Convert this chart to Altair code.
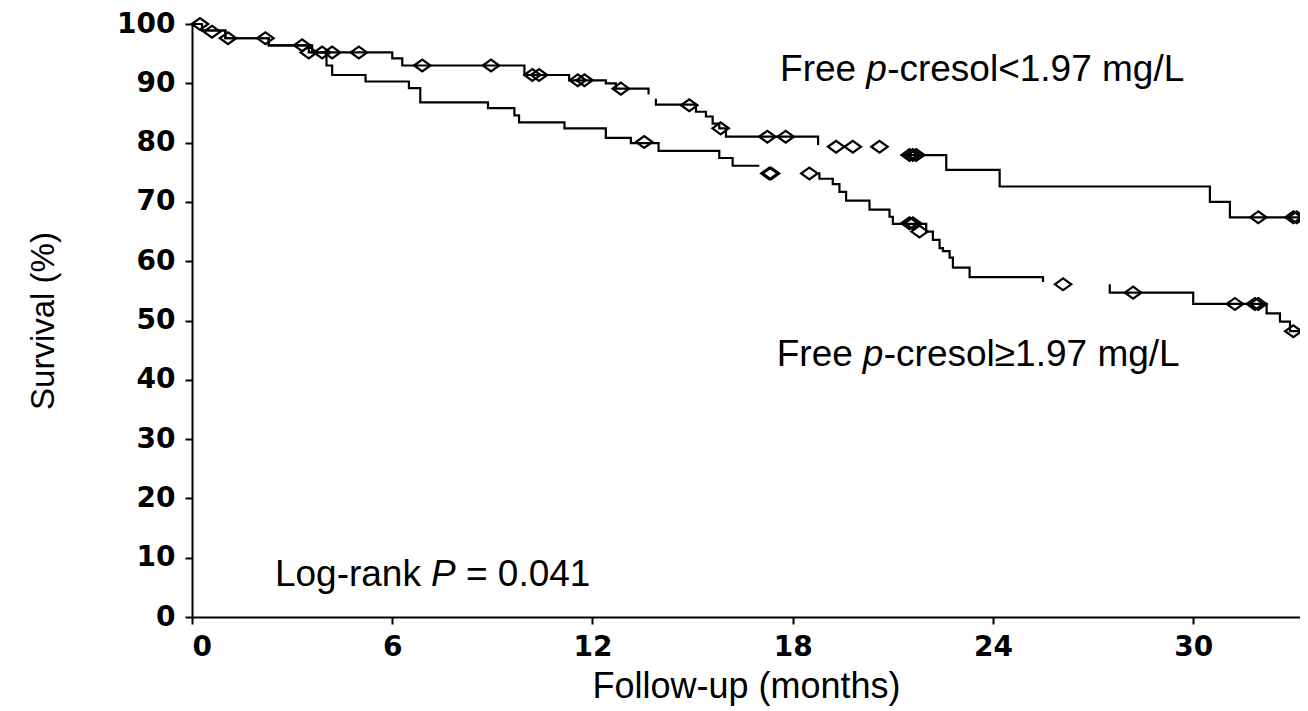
import altair as alt
import pandas as pd

# ---- Kaplan-Meier step data (months, survival %), segments split where the curve is interrupted
up_t   = [0, 0.3, 1.0, 2.3, 3.5, 6.0, 6.3, 9.96, 11.3, 12.4, 12.7, 13.68, 13.68,
          13.9, 13.9, 15.1, 15.4, 15.6, 15.8, 16.0, 18.76, 18.76,
          21.3, 22.6, 24.2, 30.5, 31.1, 33.2]
up_s   = [100, 98.9, 97.6, 96.4, 95.2, 94.2, 93.0, 91.4, 90.5, 90.0, 89.1, 89.1, 88.1,
          87.4, 86.4, 85.2, 84.4, 83.2, 82.4, 81.0, 81.0, 79.6,
          77.9, 75.4, 72.6, 70.0, 67.4, 67.4]
up_seg = [1] * 13 + [2] * 9 + [3] * 6

lo_t   = [0, 0.3, 1.0, 2.3, 3.6, 4.03, 4.2, 5.2, 6.5, 6.84, 8.87, 9.66, 9.8, 11.16, 12.4,
          13.15, 13.98, 15.8, 16.2, 17.0,
          18.7, 18.8, 19.2, 19.4, 19.6, 20.3, 20.9, 21.0, 22.0, 22.2, 22.4, 22.5, 22.7,
          22.8, 23.3, 25.5, 25.5,
          27.5, 27.5, 30.0, 32.2, 32.6, 32.9, 33.2]
lo_s   = [100, 98.9, 97.6, 96.4, 95.2, 93.0, 91.4, 90.3, 89.2, 86.8, 85.8, 84.6, 83.4, 82.4, 80.8,
          79.9, 78.6, 77.4, 76.1, 76.1,
          74.8, 73.9, 73.0, 71.7, 70.2, 68.7, 67.5, 66.3, 65.0, 63.6, 62.2, 61.7, 60.6,
          58.9, 57.3, 57.3, 56.5,
          56.1, 54.7, 52.8, 51.2, 49.8, 48.2, 48.2]
lo_seg = [1] * 20 + [2] * 17 + [3] * 7

# ---- censoring marks
up_ct = [0.24, 0.6, 1.08, 2.2, 3.3, 3.5, 3.9, 4.2, 5.0, 6.9, 8.96, 10.2, 10.4, 11.56, 11.76,
         12.85, 14.9, 15.84, 17.24, 17.79, 19.3, 19.8, 20.6, 21.5, 21.6, 21.7, 31.95, 33.0, 33.1]
up_cs = [100, 98.7, 97.6, 97.6, 96.4, 95.2, 95.2, 95.2, 95.2, 93.0, 93.0, 91.4, 91.4, 90.5, 90.5,
         89.1, 86.3, 82.4, 81.0, 81.0, 79.3, 79.3, 79.3, 77.9, 77.9, 77.9, 67.4, 67.4, 67.4]
lo_ct = [13.55, 17.3, 17.35, 18.5, 21.5, 21.6, 21.8, 26.1, 28.2, 31.25, 31.85, 31.95, 33.0]
lo_cs = [80.1, 74.8, 74.8, 74.8, 66.4, 66.4, 65.0, 56.1, 54.7, 52.8, 52.8, 52.8, 48.2]

# ---- annotation text: plain part, italic letter, rest (anchored at the italic letter)
lab_kind = ["group", "group", "test"]
lab_pre = ["Free", "Free", "Log-rank"]
lab_it = ["p", "p", "P"]
lab_post = ["-cresol<1.97 mg/L", "-cresol\u22651.97 mg/L", "= 0.041"]
lab_x = [19.9, 19.8, 6.86]
lab_y = [92.3, 44.2, 7.1]

x_ticks = [0, 6, 12, 18, 24, 30]
y_ticks = [0, 10, 20, 30, 40, 50, 60, 70, 80, 90, 100]

lines = pd.concat([
    pd.DataFrame({"t": up_t, "s": up_s, "seg": [f"u{k}" for k in up_seg]}),
    pd.DataFrame({"t": lo_t, "s": lo_s, "seg": [f"l{k}" for k in lo_seg]}),
], ignore_index=True)
lines["idx"] = range(len(lines))

cens = pd.DataFrame({"t": up_ct + lo_ct, "s": up_cs + lo_cs})
labels = pd.DataFrame({"kind": lab_kind, "pre": lab_pre, "it": lab_it, "post": lab_post,
                       "x": lab_x, "y": lab_y})

FONT = "Liberation Sans"
TICKFONT = "DejaVu Sans"
FS = 37
SP = 10  # width of a space at FS

xs = alt.Scale(domain=[0, 33.2], nice=False, zero=False)
ys = alt.Scale(domain=[0, 100], nice=False)

xenc = alt.X("t:Q", scale=xs, axis=alt.Axis(
    values=x_ticks, title="Follow-up (months)", grid=False,
    labelFont=TICKFONT, labelFontWeight="bold", labelFontSize=28, labelColor="black",
    labelPadding=9, tickSize=7, tickWidth=2, tickColor="black",
    domainColor="black", domainWidth=2,
    titleFont=FONT, titleFontSize=36, titleFontWeight="normal", titleColor="black",
    titlePadding=8))
yenc = alt.Y("s:Q", scale=ys, axis=alt.Axis(
    values=y_ticks, title="Survival (%)", grid=False,
    labelFont=TICKFONT, labelFontWeight="bold", labelFontSize=28, labelColor="black",
    labelPadding=10, tickSize=7, tickWidth=2, tickColor="black",
    domainColor="black", domainWidth=2,
    titleFont=FONT, titleFontSize=33, titleFontWeight="normal",
    titleColor="black", titlePadding=56))

line_layer = alt.Chart(lines).mark_line(
    interpolate="step-after", color="black", strokeWidth=2.2
).encode(x=xenc, y=yenc, detail="seg:N", order="idx:Q")

diamond = "M-1,0L0,-0.72L1,0L0,0.72Z"
cens_layer = alt.Chart(cens).mark_point(
    shape=diamond, size=270, filled=False, color="black", strokeWidth=2.2, opacity=1
).encode(x="t:Q", y="s:Q")

base_t = alt.Chart(labels)
pre_layer = base_t.mark_text(
    align="right", baseline="middle", font=FONT, fontSize=FS, color="black"
).encode(x="x:Q", y="y:Q", text="pre:N")
it_layer = base_t.mark_text(
    align="left", baseline="middle", font=FONT, fontSize=FS, fontStyle="italic",
    color="black", dx=SP
).encode(x="x:Q", y="y:Q", text="it:N")
post_group = base_t.transform_filter(alt.datum.kind == "group").mark_text(
    align="left", baseline="middle", font=FONT, fontSize=FS, color="black", dx=SP + 21
).encode(x="x:Q", y="y:Q", text="post:N")
post_test = base_t.transform_filter(alt.datum.kind == "test").mark_text(
    align="left", baseline="middle", font=FONT, fontSize=FS, color="black", dx=SP + 25 + SP
).encode(x="x:Q", y="y:Q", text="post:N")

chart = alt.layer(line_layer, cens_layer, pre_layer, it_layer, post_group, post_test).properties(
    width=1108, height=593,
    autosize=alt.AutoSizeParams(type="none"),
    padding={"left": 184, "top": 16, "right": 0, "bottom": 90},
    background="white",
).configure_view(stroke=None)

chart.save("out.html", embed_options={"renderer": "svg", "actions": False})
